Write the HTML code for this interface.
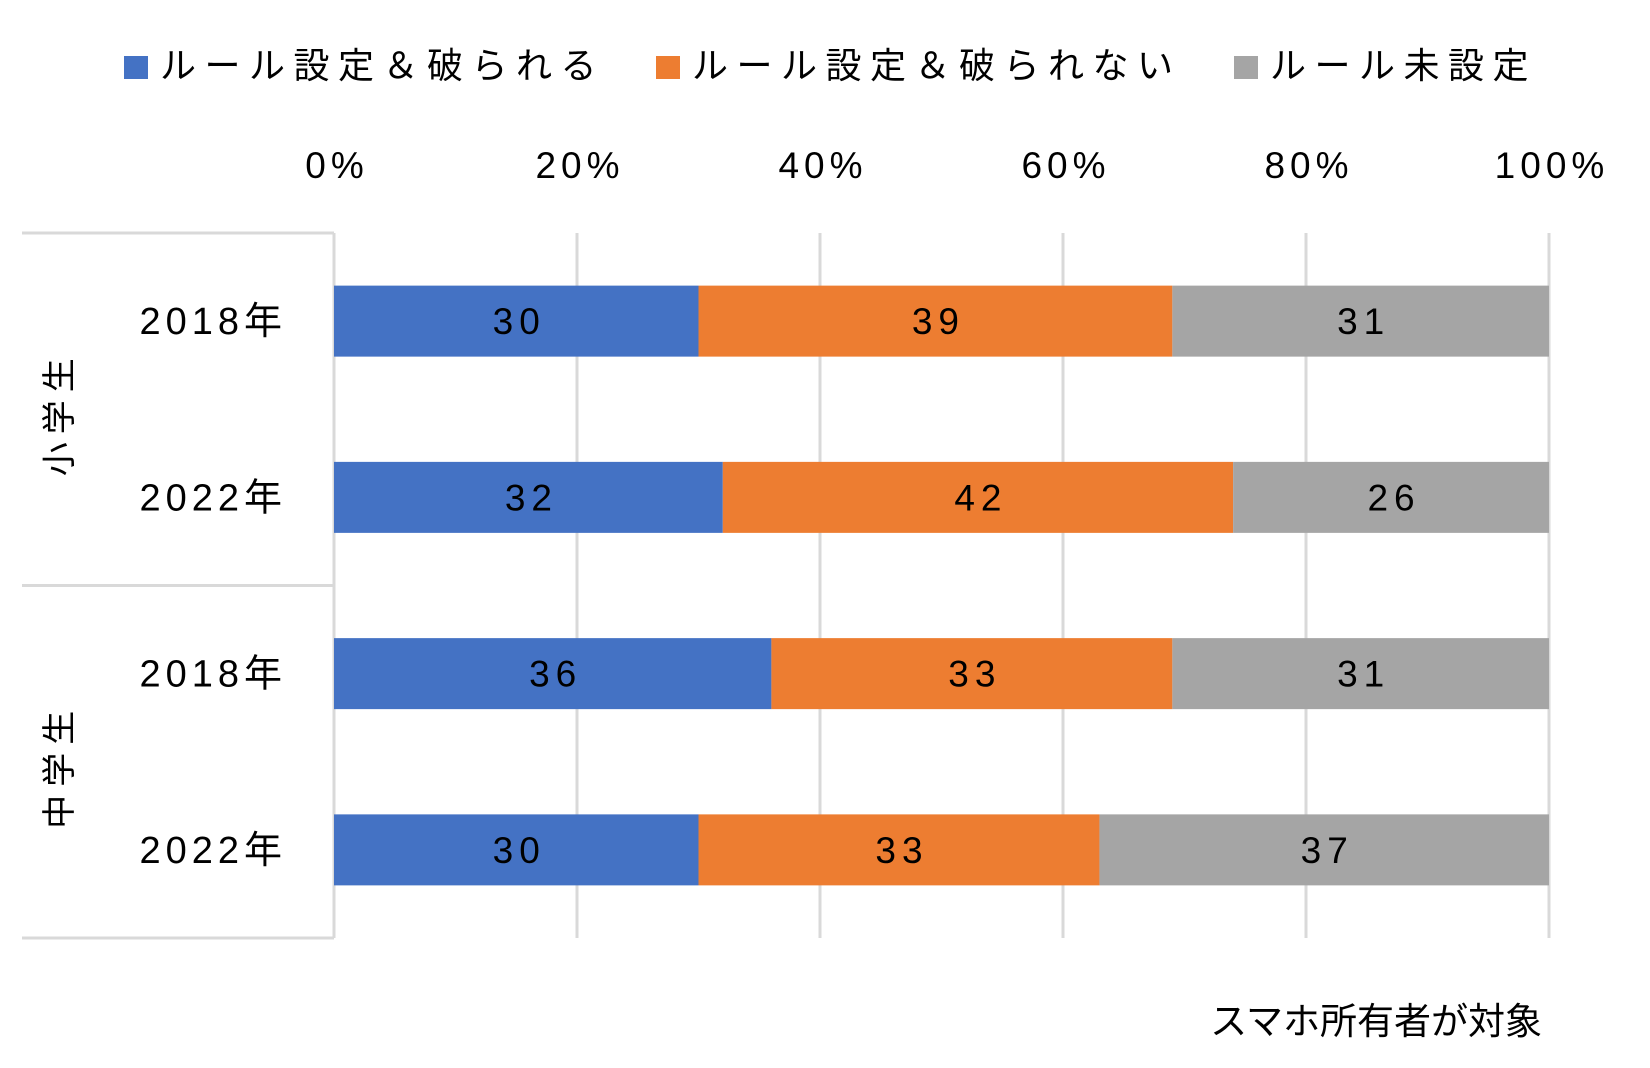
<!DOCTYPE html>
<html><head><meta charset="utf-8">
<style>
html,body{margin:0;padding:0;background:#fff;}
svg{display:block;font-family:"Liberation Sans","Noto Sans CJK JP",sans-serif;}
</style></head>
<body>
<svg id="chart" width="1650" height="1068" viewBox="0 0 1650 1068" xmlns="http://www.w3.org/2000/svg">
  <g id="legend"></g>
  <g id="grid"></g>
  <g id="xticks"></g>
  <g id="table"></g>
  <g id="bars"></g>
  <text x="1542" y="1034" text-anchor="end" font-size="37" fill="#000">スマホ所有者が対象</text>
</svg>
<script>
const categories = ["2018年","2022年","2018年","2022年"];
const groups = ["小学生","中学生"];
const seriesNames = ["ルール設定＆破られる","ルール設定＆破られない","ルール未設定"];
const brokenVals = [30,32,36,30];
const keptVals = [39,42,33,33];
const noneVals = [31,26,31,37];
const tickVals = [0,20,40,60,80,100];
const tickLabels = ["0%","20%","40%","60%","80%","100%"];

const NS="http://www.w3.org/2000/svg";
const colors=["#4472C4","#ED7D31","#A5A5A5"];
const x0=334, x1=1549, plotTop=233, plotBot=938;
const xs=v=>x0+(x1-x0)*v/100;
const bandH=(plotBot-plotTop)/categories.length;
const barH=71;
const yc=i=>plotTop+bandH*(i+0.5);
function mk(tag,attrs,parent){const e=document.createElementNS(NS,tag);for(const k in attrs)e.setAttribute(k,attrs[k]);parent.appendChild(e);return e;}

// legend
const lg=document.getElementById('legend');
const legX=[124,656,1234], legText=[160,692,1270];
seriesNames.forEach((n,i)=>{
  const r=mk('rect',{x:legX[i],y:56,width:24,height:23,fill:colors[i]},lg);
  
  
  const t=mk('text',{x:legText[i],y:78,'font-size':36,'letter-spacing':8.5,fill:'#000'},lg);
  t.textContent=n;
  
  
});

// grid + ticks
const gg=document.getElementById('grid'), tg=document.getElementById('xticks');
tickVals.forEach((v,i)=>{
  const l=mk('line',{x1:xs(v),x2:xs(v),y1:plotTop,y2:plotBot,stroke:'#D9D9D9','stroke-width':3},gg);
  
  
  const t=mk('text',{x:xs(v)+3,y:178,'font-size':37,'letter-spacing':5,'text-anchor':'middle',fill:'#000'},tg);
  t.textContent=tickLabels[i];
  
  
});

// table lines and labels
const tb=document.getElementById('table');
[plotTop,plotTop+bandH*2,plotBot].forEach(y=>{
  const l=mk('line',{x1:22,x2:x0,y1:y,y2:y,stroke:'#D9D9D9','stroke-width':3},tb);
  
  
});
groups.forEach((g,i)=>{
  const cy=plotTop+bandH*(2*i+1);
  const t=mk('text',{x:0,y:0,'font-size':34,'letter-spacing':8,'text-anchor':'middle',fill:'#000',transform:`translate(71,${cy+4}) rotate(-90)`},tb);
  t.textContent=g;
  
  
});
categories.forEach((c,i)=>{
  const t=mk('text',{x:287,y:yc(i)+13,'font-size':38,'letter-spacing':5,'text-anchor':'end',fill:'#000'},tb);
  t.textContent=c;
  
  
});

// bars
const bg=document.getElementById('bars');
const series=[brokenVals,keptVals,noneVals];
categories.forEach((c,i)=>{
  let acc=0;
  series.forEach((arr,s)=>{
    const v=arr[i];
    const xa=xs(acc), xb=xs(acc+v);
    const r=mk('rect',{x:xa,y:yc(i)-barH/2,width:xb-xa,height:barH,fill:colors[s]},bg);
    
    
    const t=mk('text',{x:(xa+xb)/2+3,y:yc(i)+13,'font-size':37,'letter-spacing':6,'text-anchor':'middle',fill:'#000'},bg);
    t.textContent=String(v);
    
    
    acc+=v;
  });
});
const axis=mk('line',{x1:x0,x2:x0,y1:plotTop,y2:plotBot,stroke:'#D9D9D9','stroke-width':3},document.getElementById('table'));


</script>
</body></html>
